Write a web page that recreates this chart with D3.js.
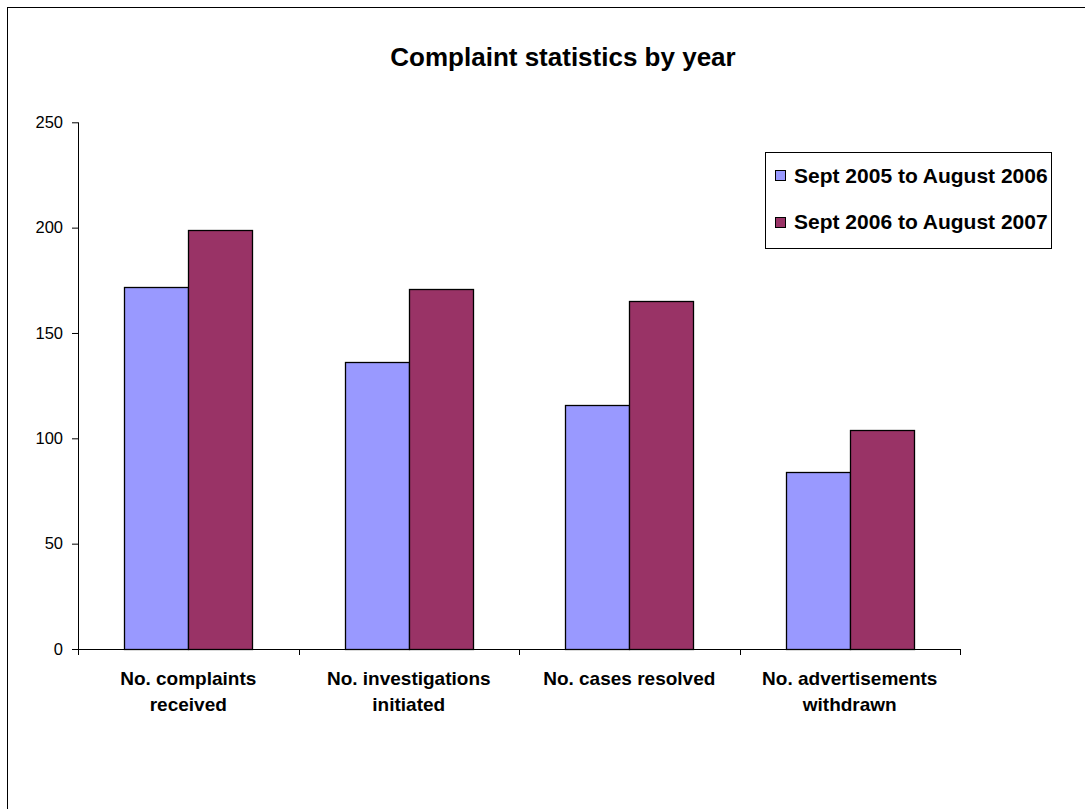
<!DOCTYPE html>
<html><head><meta charset="utf-8">
<script src="https://cdn.jsdelivr.net/npm/d3@7"></script>
<style>body{margin:0;background:#fff}svg{display:block;font-family:"Liberation Sans",Arial,sans-serif}</style>
</head><body><svg id="c" width="1085" height="809"></svg>
<script>
const categories = [["No. complaints","received"],["No. investigations","initiated"],["No. cases resolved"],["No. advertisements","withdrawn"]];
const seriesNames = ["Sept 2005 to August 2006","Sept 2006 to August 2007"];
const series2006 = [172,136,116,84];
const series2007 = [199,171,165,104];
const yTicks = [0,50,100,150,200,250];
const colors = ["#9999FF","#993366"];

const svg = d3.select("#c");
svg.append("rect").attr("x",7.5).attr("y",7.5).attr("width",1100).attr("height",830)
  .attr("fill","#fff").attr("stroke","#000").attr("stroke-width",1);

const L=78, R=960, T=122.3, B=649;
const x0 = d3.scaleBand().domain(d3.range(categories.length)).range([L,R]).padding(0);
const bw = x0.bandwidth();
const gap = bw*0.21;
const x1 = d3.scaleBand().domain([0,1]).range([gap, bw-gap]).padding(0);
const y = d3.scaleLinear().domain([0,250]).range([B,T]);

const data = [series2006, series2007];
const g = svg.append("g");
categories.forEach((c,i)=>{
  data.forEach((s,j)=>{
    g.append("rect")
      .attr("x", Math.round(x0(i)+x1(j))+0.5)
      .attr("y", Math.round(y(s[i]))+0.5)
      .attr("width", Math.round(x1.bandwidth()))
      .attr("height", Math.round(B - y(s[i])))
      .attr("fill", colors[j]).attr("stroke","#000").attr("stroke-width",1.3);
  });
});

// y axis
const ya = svg.append("g").attr("transform",`translate(${L},0)`)
  .call(d3.axisLeft(y).tickValues(yTicks).tickSize(6).tickPadding(9));
ya.select(".domain").attr("d",`M0.5,${T}V${B+6}`).attr("stroke","#000");
ya.selectAll(".tick line").attr("stroke","#000");
ya.selectAll(".tick text").attr("font-size",16.5).attr("fill","#000").attr("font-family","Liberation Sans, Arial, sans-serif");

// x axis
const xa = svg.append("g").attr("transform",`translate(0,${B})`);
xa.append("line").attr("x1",L-6).attr("x2",R).attr("y1",0.5).attr("y2",0.5).attr("stroke","#000");
d3.range(categories.length+1).forEach(i=>{
  const xx = Math.round(i<categories.length? x0(i): R)+0.5;
  xa.append("line").attr("x1",xx).attr("x2",xx).attr("y1",0).attr("y2",6).attr("stroke","#000");
});
categories.forEach((c,i)=>{
  const cx = x0(i)+bw/2;
  c.forEach((line,k)=>{
    xa.append("text").attr("x",cx).attr("y",36+k*26).attr("text-anchor","middle")
      .attr("font-size",19).attr("font-weight","bold").attr("fill","#000").text(line);
  });
});

// title
svg.append("text").attr("x",563).attr("y",66).attr("text-anchor","middle")
  .attr("font-size",26).attr("font-weight","bold").attr("fill","#000").text("Complaint statistics by year");

// legend
const lg = svg.append("g");
lg.append("rect").attr("x",765.5).attr("y",152.5).attr("width",286).attr("height",96)
  .attr("fill","#fff").attr("stroke","#000");
seriesNames.forEach((n,j)=>{
  const cy = 175 + j*46.5;
  lg.append("rect").attr("x",775.5).attr("y",Math.round(cy-5)+0.5).attr("width",10).attr("height",10)
    .attr("fill",colors[j]).attr("stroke","#000");
  lg.append("text").attr("x",794).attr("y",cy+7.5).attr("font-size",21).attr("font-weight","bold")
    .attr("fill","#000").text(n);
});
</script></body></html>
